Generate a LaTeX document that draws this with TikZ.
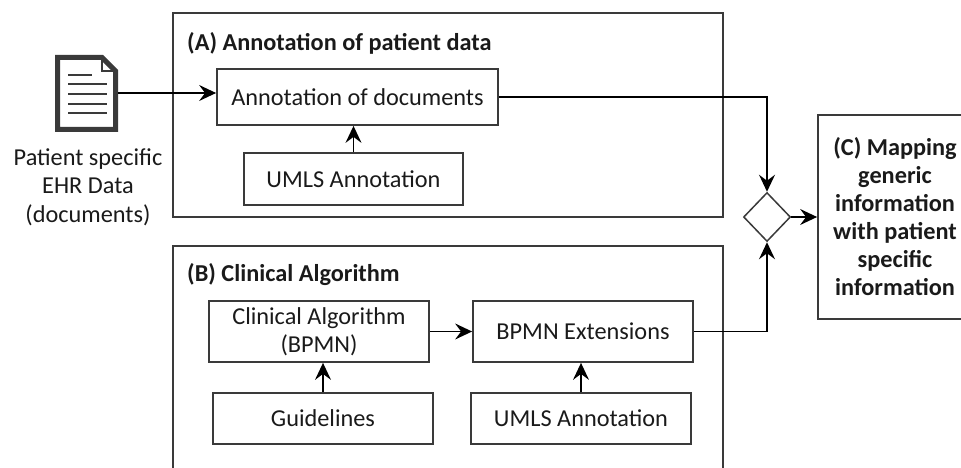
\documentclass[tikz,border=0pt]{standalone}
\usepackage{fontspec}
\setmainfont{Carlito}
\usetikzlibrary{positioning,shapes.geometric,arrows.meta}
\definecolor{edge}{HTML}{3A3A3A}
\definecolor{ink}{HTML}{1A1A1A}

\begin{document}
\begin{tikzpicture}[x=1pt, y=-1pt,
    every node/.style={font=\fontsize{24.3}{28.5}\selectfont, text=ink},
    box/.style={draw=edge, line width=1.8pt, inner sep=0pt, align=center},
    group/.style={draw=edge, line width=1.8pt, inner sep=0pt},
    heading/.style={anchor=west, inner sep=0pt, font=\fontsize{24.3}{28.5}\selectfont\bfseries},
    flow/.style={-{Stealth[length=17pt,width=16pt,inset=6pt]}, line width=1.5pt, black}]
    \useasboundingbox (0,0) rectangle (961,468);
    \clip (0,0) rectangle (961,468);

    % patient document
    \draw[edge, line width=5pt, line join=miter] (57.5,57.5) -- (102,57.5) -- (115.5,71) -- (115.5,129.5) -- (57.5,129.5) -- cycle;
    \draw[edge, line width=2pt] (102,57.5) -- (102,71) -- (115.5,71);
    \draw[edge, line width=2pt] (68,75) -- (92,75);
    \foreach \y in {84,94,104,113}
        \draw[edge, line width=2pt] (68,\y) -- (107,\y);
    \coordinate (doc) at (118,93);
    \node[align=center, inner sep=0pt] (ehr) at (88,187) {Patient specific\\EHR Data\\(documents)};

    % (A)
    \node[group, minimum width=550pt, minimum height=204pt] (grpA) at (448,115) {};
    \node[heading] (titleA) at (187,43) {(A) Annotation of patient data};
    \node[box, minimum width=281pt, minimum height=56pt] (ann) at (357.5,97) {Annotation of documents};
    \node[box, minimum width=219pt, minimum height=52pt] (umlsA) at (353.5,179) {UMLS Annotation};

    % (B)
    \node[group, minimum width=550pt, minimum height=250pt] (grpB) at (448,371) {};
    \node[heading] (titleB) at (187,275) {(B) Clinical Algorithm};
    \node[box, minimum width=220pt, minimum height=61pt] (alg) at (319,331.5) {Clinical Algorithm\\(BPMN)};
    \node[box, minimum width=220pt, minimum height=61pt] (ext) at (583,331.5) {BPMN Extensions};
    \node[box, minimum width=220pt, minimum height=51pt] (guide) at (323,418.5) {Guidelines};
    \node[box, minimum width=220pt, minimum height=51pt] (umlsB) at (581,418.5) {UMLS Annotation};

    % (C)
    \node[diamond, draw=edge, line width=1.5pt, aspect=1, minimum width=47pt, minimum height=49pt, inner sep=0pt] (gate) at (767,217) {};
    \node[box, minimum width=154pt, minimum height=204pt, font=\fontsize{24.3}{28}\selectfont\bfseries] (map) at (895,217)
        {(C) Mapping\\generic\\information\\with patient\\specific\\information};

    \path
        (doc) edge[flow] (doc -| ann.west)
        (umlsA.north) edge[flow] (umlsA.north |- ann.south)
        (alg) edge[flow] (ext)
        (guide.north) edge[flow] (guide.north |- alg.south)
        (umlsB.north) edge[flow] (umlsB.north |- ext.south)
        (gate) edge[flow] (map)
        ;
    \draw[flow] (ann.east) -| (gate.north);
    \draw[flow] (ext.east) -| (gate.south);
\end{tikzpicture}
\end{document}
